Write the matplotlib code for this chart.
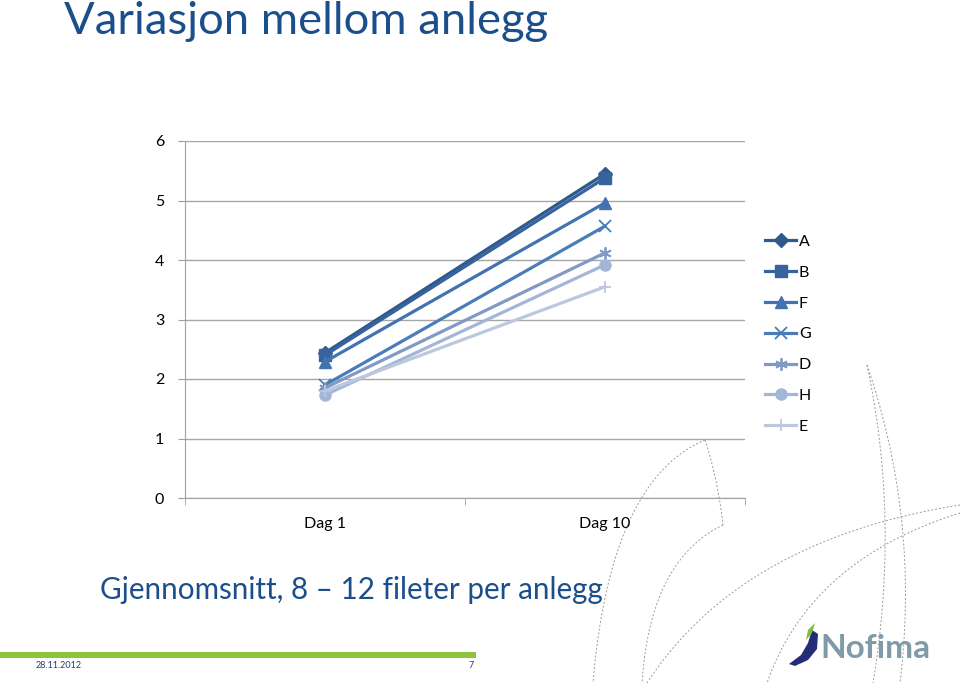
import numpy as np
import matplotlib.pyplot as plt
from matplotlib.patches import Rectangle, Polygon

plt.rcParams['font.family'] = ['Lato', 'DejaVu Sans']

days = ["Dag 1", "Dag 10"]
series = ["A", "B", "F", "G", "D", "H", "E"]
val_A = [2.44, 5.45]
val_B = [2.40, 5.38]
val_F = [2.29, 4.96]
val_G = [1.90, 4.57]
val_D = [1.85, 4.12]
val_H = [1.73, 3.92]
val_E = [1.80, 3.55]
values = [val_A, val_B, val_F, val_G, val_D, val_H, val_E]

colors = ["#2F5A8C", "#37649F", "#4272B0", "#4A7DB8", "#8199C4", "#A4B6D8", "#BDC8DF"]
markers = ["D", "s", "^", "x", (6, 2, 0), "o", "+"]
msizes = [7, 8, 8, 8, 9, 8, 9]

W, H = 960, 683
fig = plt.figure(figsize=(9.6, 6.83), dpi=100)

def fx(px):
    return px / W

def fy(py):
    return 1 - py / H

# decorative dashed arcs in the background
deco = fig.add_axes([0, 0, 1, 1], zorder=-5)
deco.set_xlim(0, W)
deco.set_ylim(H, 0)
deco.axis("off")

def bez(p0, p1, p2):
    t = np.linspace(0, 1, 60)[:, None]
    p0, p1, p2 = map(np.array, (p0, p1, p2))
    pts = (1 - t) ** 2 * p0 + 2 * (1 - t) * t * p1 + t ** 2 * p2
    deco.plot(pts[:, 0], pts[:, 1], ls=(0, (2, 2)), color="#9A9A9A", lw=0.7)

bez((705, 440), (610, 480), (593, 683))
bez((705, 440), (718, 480), (723, 525))
bez((723, 525), (650, 560), (642, 683))
bez((960, 505), (740, 540), (647, 683))
bez((960, 513), (810, 560), (767, 683))
bez((867, 365), (900, 520), (873, 683))
bez((867, 365), (920, 520), (900, 683))

# chart
ax = fig.add_axes([fx(185), fy(498), fx(745) - fx(185), fy(141) - fy(498)])
x = np.arange(len(days))
for name, v, c, m, ms in zip(series, values, colors, markers, msizes):
    ax.plot(x, v, color=c, lw=2.3, marker=m, markersize=ms,
            markeredgewidth=1.3 if m in ("x", "+", (6, 2, 0)) else 1,
            markeredgecolor=c, label=name)

ax.set_xlim(-0.5, len(days) - 0.5)
ax.set_ylim(0, 6)
ax.set_yticks(range(0, 7))
ax.set_xticks(x)
ax.set_xticklabels(days, fontsize=11.5)
ax.set_xticks([-0.5, 0.5, 1.5], minor=True)
ax.tick_params(axis="x", which="major", length=0, pad=14)
ax.tick_params(axis="x", which="minor", length=5, color="#A0A0A0")
ax.tick_params(axis="y", length=5, color="#A0A0A0", labelsize=11.5, pad=10)
ax.grid(axis="y", color="#A6A6A6", lw=1)
ax.set_axisbelow(True)
for s in ("top", "right"):
    ax.spines[s].set_visible(False)
for s in ("left", "bottom"):
    ax.spines[s].set_color("#A0A0A0")
ax.patch.set_alpha(0)

leg = ax.legend(loc="upper left", bbox_to_anchor=(1.025, 0.755), frameon=False,
                fontsize=11.5, handlelength=1.9, labelspacing=1.04,
                handletextpad=0.2, borderaxespad=0)

# slide texts
fig.text(fx(64), fy(22), "Variasjon mellom anlegg", fontsize=32.7, color="#1B4F8C",
         va="center", ha="left")
fig.text(fx(100), fy(590), "Gjennomsnitt, 8 \u2013 12 fileter per anlegg", fontsize=21.3,
         color="#1B4F8C", va="center", ha="left")

# footer
fig.patches.append(Rectangle((0, fy(658)), fx(476), fy(652) - fy(658),
                             transform=fig.transFigure, color="#8CC43E", lw=0))
fig.text(fx(36), fy(666), "28.11.2012", fontsize=6.5, color="#1B3F6A", va="center")
fig.text(fx(474), fy(666), "7", fontsize=6.5, color="#1B3F6A", va="center", ha="right")

# logo
fig.patches.append(Polygon([(fx(789), fy(664)), (fx(801), fy(655)), (fx(808), fy(643)),
                            (fx(812), fy(630)), (fx(818), fy(634)), (fx(817), fy(649)),
                            (fx(808), fy(660)), (fx(795), fy(666))],
                           closed=True, transform=fig.transFigure, color="#242C78", lw=0))
fig.patches.append(Polygon([(fx(806), fy(640)), (fx(808), fy(630)), (fx(815), fy(623)),
                            (fx(812), fy(633))],
                           closed=True, transform=fig.transFigure, color="#7DBE3C", lw=0))
fig.text(fx(820), fy(648), "Nofima", fontsize=24, fontweight="bold", color="#7F9BAA",
         va="center", ha="left")

fig.savefig("out.png", dpi=100)
